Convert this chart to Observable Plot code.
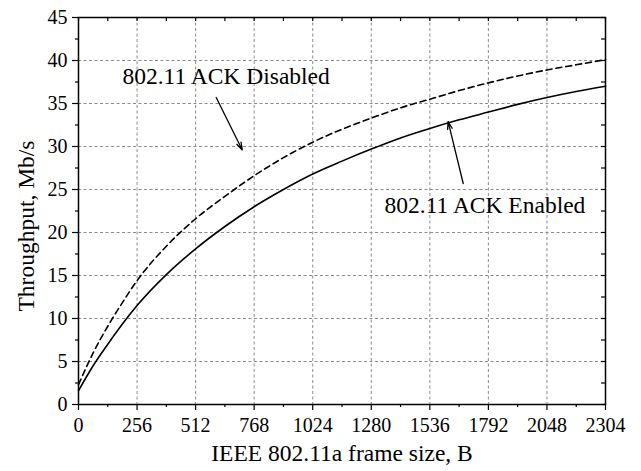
<!DOCTYPE html>
<html>
<head>
<meta charset="utf-8">
<script src="https://cdn.jsdelivr.net/npm/d3@7"></script>
<script src="https://cdn.jsdelivr.net/npm/@observablehq/plot@0.6"></script>
<style>
  html, body { margin: 0; padding: 0; background: #fff; }
  #chart svg { display: block; font-family: 'Liberation Serif', 'Times New Roman', serif; }
  #chart svg text { font-family: 'Liberation Serif', 'Times New Roman', serif; }
</style>
</head>
<body>
<div id="chart"></div>
<script>
// Frame sizes (bytes)
const frameSize = [0, 64, 128, 192, 256, 384, 512, 640, 768, 896, 1024, 1152, 1280, 1408, 1536, 1664, 1792, 1920, 2048, 2176, 2304];
// Throughput, Mb/s, 802.11 ACK Enabled
const ackEnabled = [1.6, 4.5, 7.0, 9.35, 11.5, 15.1, 18.1, 20.7, 23.0, 25.0, 26.8, 28.3, 29.7, 31.0, 32.1, 33.1, 34.0, 34.9, 35.7, 36.4, 37.0];
// Throughput, Mb/s, 802.11 ACK Disabled
const ackDisabled = [2.3, 6.0, 9.1, 11.85, 14.4, 18.4, 21.6, 24.2, 26.6, 28.7, 30.5, 32.0, 33.3, 34.5, 35.5, 36.5, 37.4, 38.2, 38.9, 39.5, 40.1];

const xTicks = [0, 256, 512, 768, 1024, 1280, 1536, 1792, 2048, 2304];
const xMinor = [128, 384, 640, 896, 1152, 1408, 1664, 1920, 2176];
const yTicks = [0, 5, 10, 15, 20, 25, 30, 35, 40, 45];
const yMinor = [2.5, 7.5, 12.5, 17.5, 22.5, 27.5, 32.5, 37.5, 42.5];

const xLabel = "IEEE 802.11a frame size, B";
const yLabel = "Throughput, Mb/s";

const labels = [
  {text: "802.11 ACK Disabled", x: 192, y: 38.2},
  {text: "802.11 ACK Enabled", x: 1338, y: 23.1}
];
const arrows = [
  {x1: 602, y1: 35.7, x2: 716, y2: 29.6},
  {x1: 1682, y1: 25.7, x2: 1616, y2: 32.9}
];

const enabledData = frameSize.map((x, i) => ({x, y: ackEnabled[i]}));
const disabledData = frameSize.map((x, i) => ({x, y: ackDisabled[i]}));

const W = 641, H = 471;
const mL = 78, mR = 36, mT = 17, mB = 67;
const pw = W - mL - mR, ph = H - mT - mB;
const serif = "'Liberation Serif', 'Times New Roman', serif";

const chart = Plot.plot({
  width: W,
  height: H,
  marginLeft: mL,
  marginRight: mR,
  marginTop: mT,
  marginBottom: mB,
  style: {fontFamily: serif, color: "#000", background: "#fff"},
  x: {domain: [0, 2304], axis: null},
  y: {domain: [0, 45], axis: null},
  marks: [
    Plot.ruleX(xTicks.slice(1, -1), {x: d => d, stroke: "#8c8c8c", strokeWidth: 1, strokeDasharray: "3,2.5"}),
    Plot.ruleY(yTicks.slice(1, -1), {y: d => d, stroke: "#8c8c8c", strokeWidth: 1, strokeDasharray: "3,2.5"}),
    Plot.line(disabledData, {x: "x", y: "y", stroke: "#000", strokeWidth: 1.6, strokeDasharray: "6,4", curve: "monotone-x"}),
    Plot.line(enabledData, {x: "x", y: "y", stroke: "#000", strokeWidth: 1.6, curve: "monotone-x"}),
    // outward bottom ticks
    Plot.ruleX(xTicks, {x: d => d, insetTop: ph, insetBottom: -6, stroke: "#000", strokeWidth: 1.2}),
    Plot.ruleX(xMinor, {x: d => d, insetTop: ph, insetBottom: -3, stroke: "#000", strokeWidth: 1.2}),
    // inward top ticks
    Plot.ruleX(xTicks.concat(xMinor), {x: d => d, insetTop: 0, insetBottom: ph - 4, stroke: "#000", strokeWidth: 1.2}),
    // outward left ticks
    Plot.ruleY(yTicks, {y: d => d, insetLeft: -6, insetRight: pw, stroke: "#000", strokeWidth: 1.2}),
    Plot.ruleY(yMinor, {y: d => d, insetLeft: -3, insetRight: pw, stroke: "#000", strokeWidth: 1.2}),
    // inward right ticks
    Plot.ruleY(yTicks.concat(yMinor), {y: d => d, insetLeft: pw - 4, insetRight: 0, stroke: "#000", strokeWidth: 1.2}),
    Plot.frame({stroke: "#000", strokeWidth: 1.5}),
    // tick labels
    Plot.text(xTicks, {x: d => d, frameAnchor: "bottom", dy: 21, text: d => String(d), fontSize: 20, fontFamily: serif, fill: "#000", lineAnchor: "middle"}),
    Plot.text(yTicks, {y: d => d, frameAnchor: "left", dx: -11, textAnchor: "end", text: d => String(d), fontSize: 20, fontFamily: serif, fill: "#000"}),
    // axis labels
    Plot.text([xLabel], {frameAnchor: "bottom", dy: 56, text: d => d, fontSize: 23.5, fontFamily: serif, fill: "#000"}),
    Plot.text([yLabel], {frameAnchor: "left", dx: -52, dy: 15, rotate: -90, textAnchor: "middle", text: d => d, fontSize: 23.5, fontFamily: serif, fill: "#000"}),
    // annotations
    Plot.text(labels, {x: "x", y: "y", text: "text", textAnchor: "start", fontSize: 23.5, fontFamily: serif, fill: "#000"}),
    Plot.arrow(arrows, {x1: "x1", y1: "y1", x2: "x2", y2: "y2", stroke: "#000", strokeWidth: 1.3, headLength: 9, headAngle: 35})
  ]
});

document.getElementById("chart").appendChild(chart);
</script>
</body>
</html>
